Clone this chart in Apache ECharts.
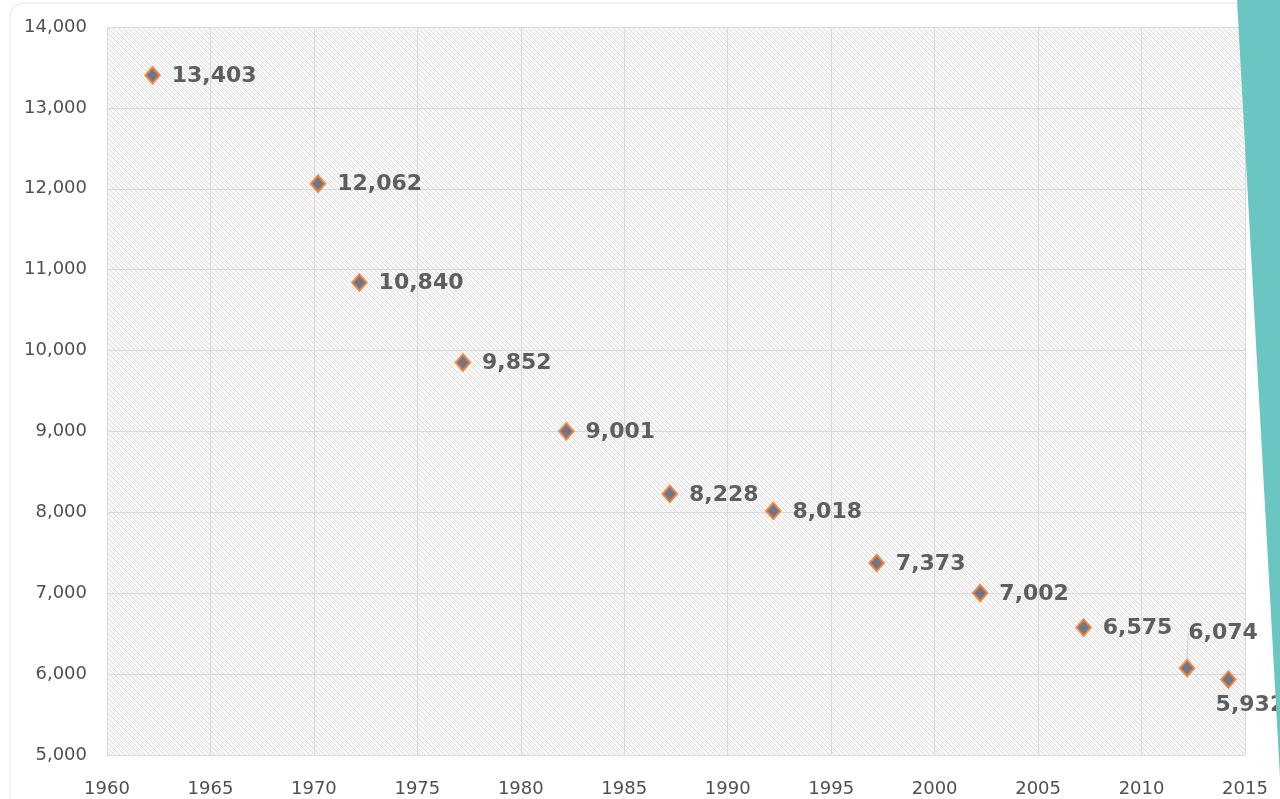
<!DOCTYPE html>
<html>
<head>
<meta charset="utf-8">
<style>
  html, body { margin: 0; padding: 0; background: #ffffff; }
  #chart { width: 1280px; height: 799px; }
</style>
<script src="https://cdn.jsdelivr.net/npm/echarts@6/dist/echarts.min.js"></script>
</head>
<body>
<div id="chart"></div>
<script>
// ---- data ----
const years = [1962.2, 1970.2, 1972.2, 1977.2, 1982.2, 1987.2, 1992.2, 1997.2, 2002.2, 2007.2, 2012.2, 2014.2];
const values = [13403, 12062, 10840, 9852, 9001, 8228, 8018, 7373, 7002, 6575, 6074, 5932];
const xTicks = [1960, 1965, 1970, 1975, 1980, 1985, 1990, 1995, 2000, 2005, 2010, 2015];
const yTicks = [5000, 6000, 7000, 8000, 9000, 10000, 11000, 12000, 13000, 14000];

// hatched background pattern
const pc = document.createElement('canvas');
pc.width = 5; pc.height = 5;
const px = pc.getContext('2d');
px.fillStyle = '#f7f7f7';
px.fillRect(0, 0, 5, 5);
px.strokeStyle = '#dedede';
px.lineWidth = 1;
px.beginPath();
px.moveTo(-1, -1); px.lineTo(6, 6);
px.moveTo(-1, 4); px.lineTo(1, 6);
px.moveTo(4, -1); px.lineTo(6, 1);
px.stroke();

const fmt = v => Number(v).toLocaleString('en-US');

const data = years.map((y, i) => {
  const item = { value: [y, values[i]] };
  if (i === 10) item.labelLine = { show: true, lineStyle: { color: '#cfcfcf', width: 1 } };
  return item;
});

const chart = echarts.init(document.getElementById('chart'), null, { renderer: 'canvas' });
chart.setOption({
  backgroundColor: '#ffffff',
  animation: false,
  grid: {
    left: 107, right: 35, top: 27, bottom: 44,
    show: true,
    backgroundColor: { image: pc, repeat: 'repeat' },
    borderWidth: 0
  },
  xAxis: {
    type: 'value', min: 1960, max: 2015, interval: 5,
    axisLine: { show: false }, axisTick: { show: false },
    splitLine: { show: true, lineStyle: { color: '#dadada', width: 1 } },
    axisLabel: {
      color: '#505050', fontFamily: 'DejaVu Sans', fontSize: 18, margin: 25,
      customValues: xTicks, formatter: v => String(v)
    }
  },
  yAxis: {
    type: 'value', min: 5000, max: 14000, interval: 1000,
    axisLine: { show: false }, axisTick: { show: false },
    splitLine: { show: true, lineStyle: { color: '#dadada', width: 1 } },
    axisLabel: {
      color: '#505050', fontFamily: 'DejaVu Sans', fontSize: 18, margin: 20,
      customValues: yTicks, formatter: v => fmt(v)
    }
  },
  series: [{
    type: 'scatter',
    data: data,
    symbol: 'diamond',
    symbolSize: [14, 16],
    itemStyle: { color: '#4b5670', borderColor: '#ED7D31', borderWidth: 2.5 },
    label: {
      show: true, position: 'right', distance: 11,
      formatter: p => fmt(p.value[1]),
      fontFamily: 'DejaVu Sans', fontWeight: 'bold', fontSize: 22, color: '#383838'
    },
    labelLayout: function (p) {
      if (p.dataIndex === 10) return { dx: -18, dy: -35 };
      if (p.dataIndex === 11) return { dx: -32, dy: 26 };
      return { dy: 1 };
    }
  }],
  graphic: [
    {
      type: 'rect', z: -1,
      shape: { x: 10, y: 3, width: 1300, height: 820, r: 14 },
      style: { fill: 'none', stroke: '#ededed', lineWidth: 1.5 }
    },
    {
      type: 'polygon', z: 100,
      shape: { points: [[1237, 0], [1280, 0], [1280, 778]] },
      style: { fill: '#6bc6c2' }
    }
  ]
});
</script>
</body>
</html>
